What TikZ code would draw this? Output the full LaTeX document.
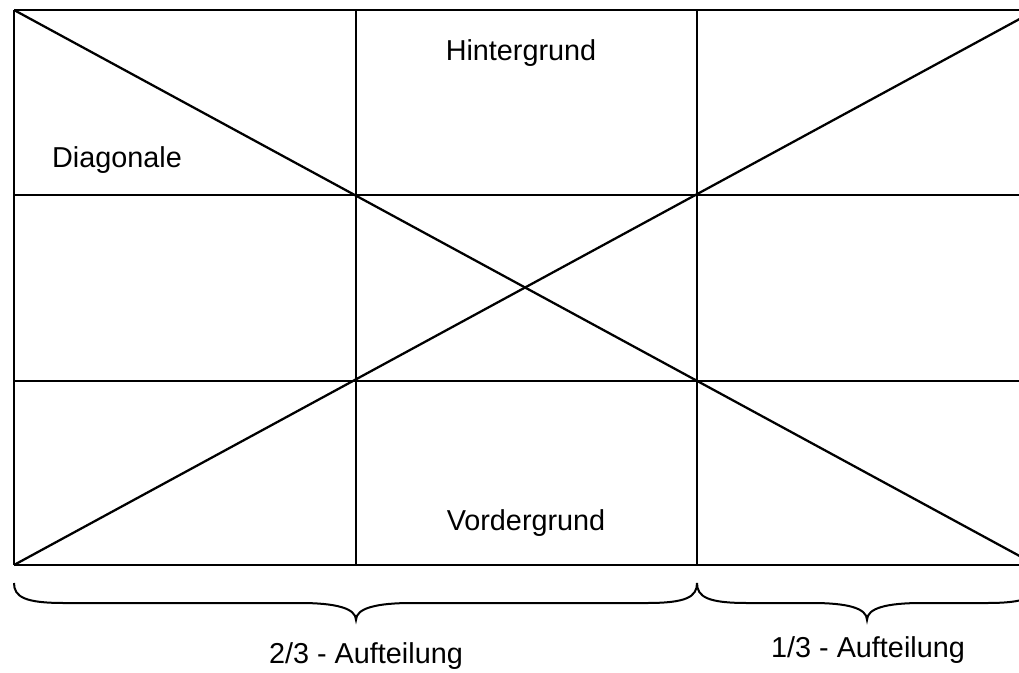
\documentclass[tikz,border=0pt]{standalone}
\usepackage{fontspec}
\setmainfont{Liberation Sans}
\begin{document}
\begin{tikzpicture}[x=0.75pt,y=-0.75pt,
  gridline/.style={line width=1.9pt},
  diag/.style={line width=1.7pt},
  bracel/.style={line width=1.5pt},
  lbl/.style={anchor=base,inner sep=0pt,font=\fontsize{21.6}{26}\selectfont}]
\useasboundingbox (0,0) rectangle (1019,673);
\clip (0,0) rectangle (1019,673);
% grid
\draw[gridline] (14,10) -- (1040,10);
\draw[gridline] (14,195) -- (1040,195);
\draw[gridline] (14,381) -- (1040,381);
\draw[gridline] (14,565) -- (1040,565);
\draw[gridline] (14,10) -- (14,565);
\draw[gridline] (356,10) -- (356,565);
\draw[gridline] (697,10) -- (697,565);
% diagonals
\draw[diag] (14,10) -- (1038,566);
\draw[diag] (14,565) -- (1038,9);
% braces
\draw[bracel] (14,583) .. controls (14,597) and (25,603) .. (64,603)
  -- (300,603) .. controls (335,603) and (356,608) .. (356,620)
  .. controls (356,608) and (377,603) .. (412,603)
  -- (647,603) .. controls (686,603) and (697,597) .. (697,583);
\draw[bracel] (697,583) .. controls (697,597) and (708,603) .. (747,603)
  -- (812,603) .. controls (847,603) and (867,608) .. (867,620)
  .. controls (867,608) and (887,603) .. (922,603)
  -- (987,603) .. controls (1026,603) and (1037,597) .. (1037,583);
% labels
\node[lbl] (hg) at (521,61) {Hintergrund};
\node[lbl] (dg) at (117,168) {Diagonale};
\node[lbl] (vg) at (526,530) {Vordergrund};
\node[lbl] (zd) at (366,663) {2/3 - Aufteilung};
\node[lbl] (ed) at (868,657) {1/3 - Aufteilung};
\end{tikzpicture}
\end{document}
